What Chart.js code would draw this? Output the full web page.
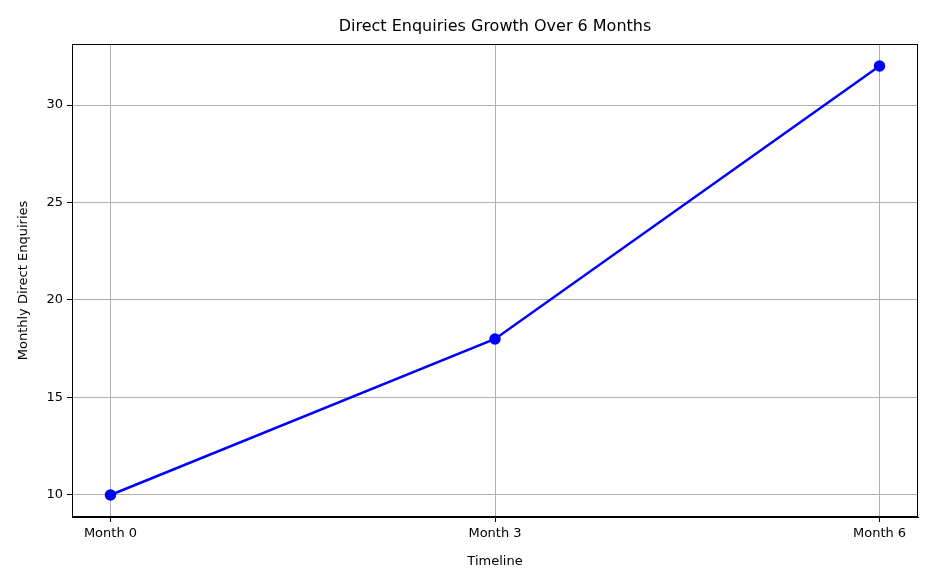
<!DOCTYPE html>
<html><head><meta charset="utf-8">
<script src="https://cdn.jsdelivr.net/npm/chart.js@4"></script>
<style>html,body{margin:0;padding:0;background:#fff}</style>
</head><body>
<canvas id="c" width="936" height="585"></canvas>
<script>
const monthPositions = [0, 3, 6];
const monthLabels = ["Month 0", "Month 3", "Month 6"];
const enquiries = [10, 18, 32];
const yTicks = [10, 15, 20, 25, 30];

const F = "'DejaVu Sans', sans-serif";
const frame = {
  id: 'frame',
  afterDraw(ch) {
    const a = ch.chartArea, c = ch.ctx;
    c.save();
    c.strokeStyle = '#000'; c.lineWidth = 1;
    c.strokeRect(a.left + 0.5, a.top + 0.5, a.right - a.left - 1, a.bottom - a.top - 1);
    c.fillStyle = '#000'; c.font = '16px ' + F;
    c.textAlign = 'center'; c.textBaseline = 'middle';
    c.fillText('Direct Enquiries Growth Over 6 Months', (a.left + a.right) / 2, 27);
    c.restore();
  }
};

new Chart(document.getElementById('c'), {
  type: 'line',
  data: {
    datasets: [{
      data: monthPositions.map((x, i) => ({x, y: enquiries[i]})),
      borderColor: '#0000ff', backgroundColor: '#0000ff',
      borderWidth: 2.5, pointRadius: 4.5, pointHoverRadius: 4.5, tension: 0
    }]
  },
  options: {
    responsive: false, animation: false, devicePixelRatio: 1,
    layout: { padding: { top: 44, right: 18, left: 0, bottom: 0 } },
    plugins: { legend: { display: false }, tooltip: { enabled: false } },
    scales: {
      x: {
        type: 'linear', min: -0.3, max: 6.3,
        afterBuildTicks: s => { s.ticks = monthPositions.map(v => ({value: v})); },
        afterFit: s => { s.height = 68; },
        ticks: { color: '#000', font: { family: F, size: 13 }, padding: 4,
          callback: v => monthLabels[monthPositions.indexOf(v)] },
        grid: { color: '#b0b0b0', tickColor: '#000', tickLength: 5 },
        border: { color: '#000' },
        title: { display: true, text: 'Timeline', color: '#000', font: { family: F, size: 13 }, padding: { top: 2, bottom: 16 } }
      },
      y: {
        min: 8.87, max: 33.13,
        afterBuildTicks: s => { s.ticks = yTicks.map(v => ({value: v})); },
        afterFit: s => { s.width = 72; },
        ticks: { color: '#000', font: { family: F, size: 13 }, padding: 4 },
        grid: { color: '#b0b0b0', tickColor: '#000', tickLength: 5 },
        border: { color: '#000' },
        title: { display: true, text: 'Monthly Direct Enquiries', color: '#000', font: { family: F, size: 13 }, padding: { top: 16, bottom: 4 } }
      }
    }
  },
  plugins: [frame]
});
</script>
</body></html>
